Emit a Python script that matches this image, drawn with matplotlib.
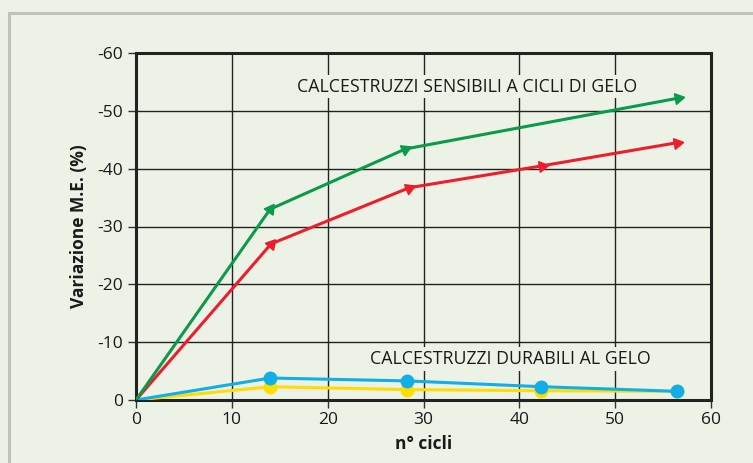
import numpy as np
import matplotlib.pyplot as plt
from matplotlib.patches import Rectangle

# data (y axis shown inverted: negative = loss)
cicli_verde = [0, 14, 28.1, 56.6]
me_verde = [0, -33.0, -43.4, -52.2]
cicli_rosso = [0, 14.1, 28.5, 42.4, 56.5]
me_rosso = [0, -27.0, -36.7, -40.5, -44.5]
cicli_blu = [0, 14.0, 28.3, 42.3, 56.5]
me_blu = [0, -3.8, -3.3, -2.3, -1.5]
cicli_giallo = [0, 14.0, 28.3, 42.3, 56.5]
me_giallo = [0, -2.3, -1.8, -1.6, -1.5]

x_ticks = [0, 10, 20, 30, 40, 50, 60]
y_ticks = [0, -10, -20, -30, -40, -50, -60]

bg = '#edf2e7'
verde = '#0b9a4a'
rosso = '#ee1d2b'
blu = '#12aee8'
giallo = '#ffdd00'

plt.rcParams['font.family'] = ['Open Sans', 'DejaVu Sans']

fig = plt.figure(figsize=(7.53, 4.63), dpi=100, facecolor=bg)
ax = fig.add_axes([136/753, 1 - 400/463, 575/753, 347/463])
ax.set_facecolor(bg)

# grey frame around the panel
fig.patches.append(Rectangle((9/753, -0.05), 1.0, 1 - 13/463 + 0.05,
                             transform=fig.transFigure, fill=False,
                             edgecolor='#bfc1bd', lw=2.2))

ax.set_xlim(0, 60)
ax.set_ylim(0, -60)
ax.set_xticks(x_ticks)
ax.set_yticks(y_ticks)
ax.set_xticklabels([str(v) for v in x_ticks], fontsize=12.5, color='#1a1a1a')
ax.set_yticklabels([str(v) for v in y_ticks], fontsize=12.5, color='#1a1a1a')
ax.tick_params(length=6, width=1, color='#333333', pad=3)
ax.grid(True, color='#222222', lw=1.0)
ax.set_axisbelow(True)
for s in ax.spines.values():
    s.set_linewidth(2.2)
    s.set_color('#222222')

ax.set_xlabel('n° cicli', fontsize=12.5, fontweight='bold', color='#1a1a1a', labelpad=5)
ax.set_ylabel('Variazione M.E. (%)', fontsize=12.5, fontweight='bold', color='#1a1a1a', labelpad=7)


def arrow_markers(xs, ys, color):
    # triangles pointing along each incoming segment
    for i in range(1, len(xs)):
        p0 = ax.transData.transform((xs[i-1], ys[i-1]))
        p1 = ax.transData.transform((xs[i], ys[i]))
        ang = np.degrees(np.arctan2(p1[1] - p0[1], p1[0] - p0[0]))
        ax.plot(xs[i], ys[i], marker=(3, 0, ang - 90), color=color,
                ms=9, mec=color, zorder=4, clip_on=False)


ax.plot(cicli_giallo, me_giallo, color=giallo, lw=2.2, zorder=3)
ax.plot(cicli_giallo[1:], me_giallo[1:], 'o', color=giallo, ms=9, zorder=3)
ax.plot(cicli_blu, me_blu, color=blu, lw=2.2, zorder=3)
ax.plot(cicli_blu[1:], me_blu[1:], 'o', color=blu, ms=9, zorder=3, clip_on=False)

ax.plot(cicli_rosso, me_rosso, color=rosso, lw=2.2, zorder=3)
ax.plot(cicli_verde, me_verde, color=verde, lw=2.2, zorder=3)
fig.canvas.draw()
arrow_markers(cicli_rosso, me_rosso, rosso)
arrow_markers(cicli_verde, me_verde, verde)

box = dict(facecolor=bg, edgecolor='none', pad=2)
ax.text(34.6, -54.2, 'CALCESTRUZZI SENSIBILI A CICLI DI GELO', fontsize=12.8,
        color='#1a1a1a', ha='center', va='center', bbox=box, zorder=2)
ax.text(39.1, -7.1, 'CALCESTRUZZI DURABILI AL GELO', fontsize=12.8,
        color='#1a1a1a', ha='center', va='center', bbox=box, zorder=2)

fig.savefig('out.png', dpi=100, facecolor=bg)
